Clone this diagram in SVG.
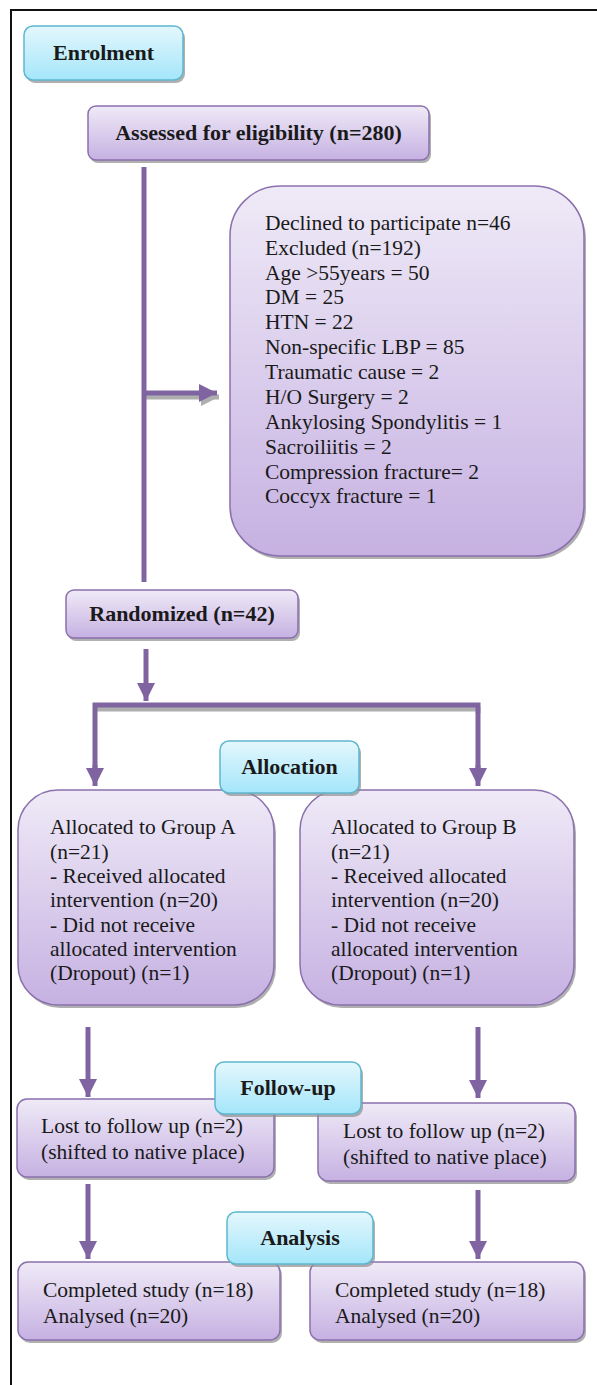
<svg xmlns="http://www.w3.org/2000/svg" width="597" height="1385" viewBox="0 0 597 1385">
<defs>
<linearGradient id="gp" x1="0" y1="0" x2="0" y2="1">
<stop offset="0" stop-color="#efeaf7"/>
<stop offset="1" stop-color="#c6b1e2"/>
</linearGradient>
<linearGradient id="gc" x1="0" y1="0" x2="0" y2="1">
<stop offset="0" stop-color="#e4f7fd"/>
<stop offset="1" stop-color="#a4e6fa"/>
</linearGradient>
<marker id="ah" viewBox="0 0 10 10" refX="10" refY="5" markerWidth="3.8" markerHeight="3.6" orient="auto" markerUnits="strokeWidth">
<path d="M0,0 L10,5 L0,10 Z" fill="#8064a2"/>
</marker>
<marker id="ahs" viewBox="0 0 10 10" refX="10" refY="5" markerWidth="3.8" markerHeight="3.6" orient="auto" markerUnits="strokeWidth">
<path d="M0,0 L10,5 L0,10 Z" fill="#9a9a9a"/>
</marker>
</defs>
<style>
.p{fill:url(#gp);stroke:#8a70ad;stroke-width:1.5}
.c{fill:url(#gc);stroke:#5fb7cf;stroke-width:1.5}
.sh{fill:#8f8f8f;opacity:0.7}
.t{font-family:"Liberation Serif",serif;font-size:21.5px;fill:#1a1a1a}
.b{font-family:"Liberation Serif",serif;font-size:22px;font-weight:bold;fill:#1a1a1a}
.ln{stroke:#8064a2;stroke-width:5;fill:none}
.ls{stroke:#9a9a9a;stroke-width:5;fill:none;opacity:0.8}
</style>
<rect width="597" height="1385" fill="#ffffff"/>
<path d="M11,1385 V10 H597" fill="none" stroke="#111" stroke-width="2"/>

<g id="connectors">
<line class="ls" x1="146" y1="397" x2="219" y2="397" marker-end="url(#ahs)"/>
<line class="ln" x1="144" y1="167" x2="144" y2="582"/>
<line class="ln" x1="144" y1="393" x2="217" y2="393" marker-end="url(#ah)"/>
<line class="ln" x1="146" y1="649" x2="146" y2="701" marker-end="url(#ah)"/>
<path class="ls" d="M95,709 H478 V713"/>
<path class="ln" d="M95,770 V705 H478 V770"/>
<line class="ln" x1="95" y1="765" x2="95" y2="786" marker-end="url(#ah)"/>
<line class="ln" x1="478" y1="765" x2="478" y2="786" marker-end="url(#ah)"/>
<line class="ln" x1="88" y1="1027" x2="88" y2="1097" marker-end="url(#ah)"/>
<line class="ln" x1="478" y1="1027" x2="478" y2="1098" marker-end="url(#ah)"/>
<line class="ln" x1="88" y1="1184" x2="88" y2="1259" marker-end="url(#ah)"/>
<line class="ln" x1="478" y1="1190" x2="478" y2="1259" marker-end="url(#ah)"/>
</g>

<g id="enrolment">
<rect class="sh" x="26" y="29" width="159" height="54" rx="9"/>
<rect class="c" x="24" y="26" width="159" height="54" rx="9"/>
<text class="b" x="103.5" y="60" text-anchor="middle">Enrolment</text>
</g>

<g id="assessed">
<rect class="sh" x="90" y="109" width="341" height="54" rx="8"/>
<rect class="p" x="88" y="106" width="341" height="54" rx="8"/>
<text class="b" x="258.5" y="140" text-anchor="middle">Assessed for eligibility (n=280)</text>
</g>

<g id="excluded">
<rect class="sh" x="232" y="189" width="354" height="370" rx="50"/>
<rect class="p" x="230" y="186" width="354" height="370" rx="50"/>
<text class="t" x="265" y="230">Declined to participate n=46</text>
<text class="t" x="265" y="255">Excluded (n=192)</text>
<text class="t" x="265" y="280">Age &gt;55years = 50</text>
<text class="t" x="265" y="304">DM = 25</text>
<text class="t" x="265" y="329">HTN = 22</text>
<text class="t" x="265" y="354">Non-specific LBP = 85</text>
<text class="t" x="265" y="379">Traumatic cause = 2</text>
<text class="t" x="265" y="404">H/O Surgery = 2</text>
<text class="t" x="265" y="429">Ankylosing Spondylitis = 1</text>
<text class="t" x="265" y="454">Sacroiliitis = 2</text>
<text class="t" x="265" y="479">Compression fracture= 2</text>
<text class="t" x="265" y="503">Coccyx fracture = 1</text>
</g>

<g id="randomized">
<rect class="sh" x="68" y="593" width="232" height="48" rx="8"/>
<rect class="p" x="66" y="590" width="232" height="48" rx="8"/>
<text class="b" x="182" y="621" text-anchor="middle">Randomized (n=42)</text>
</g>

<g id="groupA">
<rect class="sh" x="20" y="793" width="256" height="215" rx="40"/>
<rect class="p" x="18" y="790" width="256" height="215" rx="40"/>
<text class="t" x="50" y="834">Allocated to Group A</text>
<text class="t" x="50" y="859">(n=21)</text>
<text class="t" x="50" y="883">- Received allocated</text>
<text class="t" x="50" y="907">intervention (n=20)</text>
<text class="t" x="50" y="932">- Did not receive</text>
<text class="t" x="50" y="956">allocated intervention</text>
<text class="t" x="50" y="980">(Dropout) (n=1)</text>
</g>

<g id="groupB">
<rect class="sh" x="302" y="793" width="274" height="215" rx="40"/>
<rect class="p" x="300" y="790" width="274" height="215" rx="40"/>
<text class="t" x="331" y="834">Allocated to Group B</text>
<text class="t" x="331" y="859">(n=21)</text>
<text class="t" x="331" y="883">- Received allocated</text>
<text class="t" x="331" y="907">intervention (n=20)</text>
<text class="t" x="331" y="932">- Did not receive</text>
<text class="t" x="331" y="956">allocated intervention</text>
<text class="t" x="331" y="980">(Dropout) (n=1)</text>
</g>

<g id="allocation">
<rect class="sh" x="222" y="744" width="139" height="52" rx="9"/>
<rect class="c" x="220" y="741" width="139" height="52" rx="9"/>
<text class="b" x="289.5" y="774" text-anchor="middle">Allocation</text>
</g>

<g id="lostA">
<rect class="sh" x="19" y="1102" width="257" height="78" rx="10"/>
<rect class="p" x="17" y="1099" width="257" height="78" rx="10"/>
<text class="t" x="41" y="1133">Lost to follow up (n=2)</text>
<text class="t" x="41" y="1159">(shifted to native place)</text>
</g>

<g id="lostB">
<rect class="sh" x="320" y="1106" width="257" height="78" rx="10"/>
<rect class="p" x="318" y="1103" width="257" height="78" rx="10"/>
<text class="t" x="343" y="1138">Lost to follow up (n=2)</text>
<text class="t" x="343" y="1164">(shifted to native place)</text>
</g>

<g id="followup">
<rect class="sh" x="217" y="1065" width="146" height="52" rx="9"/>
<rect class="c" x="215" y="1062" width="146" height="52" rx="9"/>
<text class="b" x="288" y="1095" text-anchor="middle">Follow-up</text>
</g>

<g id="completedA">
<rect class="sh" x="20" y="1265" width="262" height="78" rx="10"/>
<rect class="p" x="18" y="1262" width="262" height="78" rx="10"/>
<text class="t" x="43" y="1297">Completed study (n=18)</text>
<text class="t" x="43" y="1323">Analysed (n=20)</text>
</g>

<g id="completedB">
<rect class="sh" x="312" y="1265" width="274" height="78" rx="10"/>
<rect class="p" x="310" y="1262" width="274" height="78" rx="10"/>
<text class="t" x="335" y="1297">Completed study (n=18)</text>
<text class="t" x="335" y="1323">Analysed (n=20)</text>
</g>

<g id="analysis">
<rect class="sh" x="229" y="1215" width="146" height="52" rx="9"/>
<rect class="c" x="227" y="1212" width="146" height="52" rx="9"/>
<text class="b" x="300" y="1245" text-anchor="middle">Analysis</text>
</g>
</svg>
